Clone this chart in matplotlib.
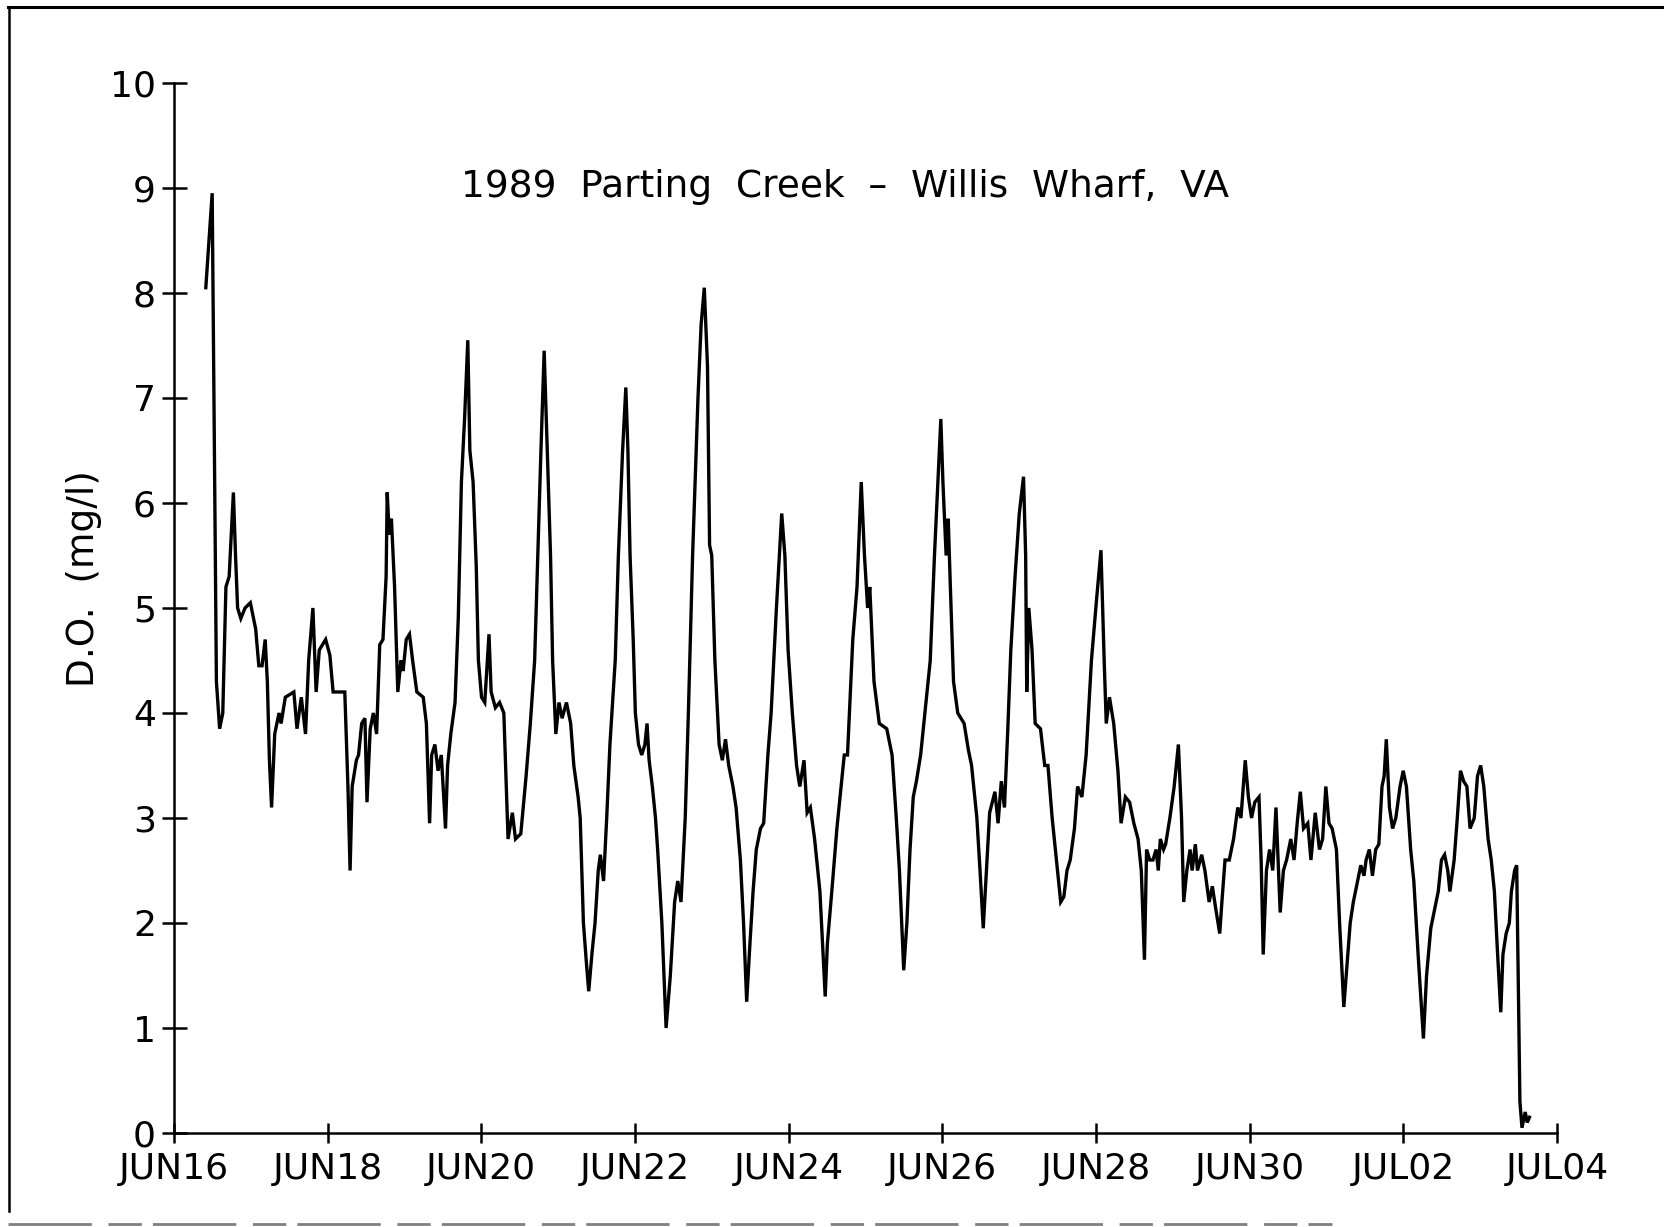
import matplotlib
matplotlib.use("Agg")
import matplotlib.pyplot as plt
from matplotlib.lines import Line2D

# Dissolved oxygen record, days after JUN16 00:00
day_offset = [0.414, 0.456, 0.497, 0.552, 0.594, 0.635, 0.676, 0.718, 0.773, 0.801,
              0.828, 0.870, 0.925, 0.994, 1.063, 1.104, 1.146, 1.187, 1.215, 1.242,
              1.270, 1.311, 1.367, 1.394, 1.449, 1.560, 1.601, 1.657, 1.712, 1.753,
              1.808, 1.850, 1.891, 1.974, 2.029, 2.071, 2.223, 2.264, 2.292, 2.319,
              2.374, 2.402, 2.443, 2.485, 2.512, 2.554, 2.595, 2.637, 2.678, 2.720,
              2.761, 2.775, 2.802, 2.830, 2.871, 2.913, 2.954, 2.982, 3.023, 3.065,
              3.106, 3.161, 3.244, 3.285, 3.327, 3.354, 3.396, 3.437, 3.479, 3.534,
              3.561, 3.603, 3.658, 3.700, 3.741, 3.782, 3.824, 3.851, 3.893, 3.934,
              3.962, 4.003, 4.045, 4.100, 4.128, 4.183, 4.238, 4.293, 4.321, 4.348,
              4.404, 4.445, 4.514, 4.583, 4.638, 4.694, 4.735, 4.776, 4.818, 4.859,
              4.901, 4.928, 4.970, 5.011, 5.052, 5.108, 5.163, 5.204, 5.260, 5.287,
              5.329, 5.370, 5.398, 5.439, 5.480, 5.522, 5.549, 5.591, 5.632, 5.674,
              5.743, 5.784, 5.839, 5.881, 5.908, 5.936, 5.977, 6.005, 6.046, 6.088,
              6.129, 6.157, 6.184, 6.226, 6.267, 6.295, 6.350, 6.405, 6.460, 6.516,
              6.557, 6.599, 6.654, 6.695, 6.750, 6.820, 6.861, 6.902, 6.944, 6.971,
              6.999, 7.040, 7.095, 7.137, 7.178, 7.220, 7.275, 7.316, 7.372, 7.413,
              7.454, 7.496, 7.537, 7.579, 7.634, 7.675, 7.730, 7.772, 7.841, 7.910,
              7.951, 7.993, 8.048, 8.103, 8.145, 8.200, 8.241, 8.283, 8.338, 8.407,
              8.476, 8.504, 8.573, 8.628, 8.683, 8.724, 8.766, 8.835, 8.890, 8.945,
              8.987, 9.028, 9.056, 9.111, 9.180, 9.277, 9.346, 9.401, 9.442, 9.498,
              9.539, 9.580, 9.622, 9.663, 9.718, 9.774, 9.843, 9.898, 9.981, 10.008,
              10.050, 10.077, 10.105, 10.146, 10.201, 10.284, 10.339, 10.381, 10.450, 10.491,
              10.533, 10.574, 10.616, 10.685, 10.726, 10.768, 10.809, 10.850, 10.892, 10.947,
              11.002, 11.057, 11.085, 11.099, 11.126, 11.168, 11.209, 11.278, 11.333, 11.375,
              11.430, 11.485, 11.541, 11.582, 11.623, 11.665, 11.720, 11.761, 11.817, 11.872,
              11.941, 12.010, 12.065, 12.107, 12.134, 12.176, 12.231, 12.286, 12.327, 12.383,
              12.438, 12.493, 12.548, 12.590, 12.631, 12.659, 12.700, 12.742, 12.783, 12.811,
              12.838, 12.880, 12.907, 12.962, 13.018, 13.073, 13.114, 13.142, 13.183, 13.225,
              13.252, 13.294, 13.321, 13.376, 13.418, 13.473, 13.515, 13.556, 13.611, 13.639,
              13.680, 13.735, 13.791, 13.846, 13.887, 13.943, 13.984, 14.025, 14.067, 14.122,
              14.150, 14.177, 14.219, 14.260, 14.301, 14.343, 14.398, 14.440, 14.481, 14.536,
              14.578, 14.619, 14.660, 14.702, 14.757, 14.798, 14.854, 14.909, 14.950, 14.992,
              15.033, 15.074, 15.130, 15.171, 15.226, 15.268, 15.309, 15.350, 15.392, 15.447,
              15.489, 15.516, 15.558, 15.599, 15.641, 15.682, 15.723, 15.751, 15.779, 15.820,
              15.861, 15.903, 15.958, 15.999, 16.041, 16.096, 16.137, 16.193, 16.262, 16.303,
              16.358, 16.400, 16.455, 16.497, 16.538, 16.579, 16.607, 16.662, 16.703, 16.745,
              16.786, 16.828, 16.869, 16.924, 16.966, 17.007, 17.048, 17.104, 17.145, 17.186,
              17.228, 17.269, 17.297, 17.339, 17.380, 17.407, 17.449, 17.476, 17.518, 17.545,
              17.587, 17.614, 17.642]

do_mgl = [8.05, 8.5, 8.95, 4.3, 3.85, 4.0, 5.2, 5.3, 6.1, 5.5,
          5.0, 4.9, 5.0, 5.05, 4.8, 4.45, 4.45, 4.7, 4.3, 3.55,
          3.1, 3.8, 4.0, 3.9, 4.15, 4.2, 3.85, 4.15, 3.8, 4.5,
          5.0, 4.2, 4.6, 4.7, 4.55, 4.2, 4.2, 3.3, 2.5, 3.3,
          3.55, 3.6, 3.9, 3.95, 3.15, 3.85, 4.0, 3.8, 4.65, 4.7,
          5.3, 6.1, 5.7, 5.85, 5.2, 4.2, 4.5, 4.4, 4.7, 4.75,
          4.5, 4.2, 4.15, 3.9, 2.95, 3.6, 3.7, 3.45, 3.6, 2.9,
          3.5, 3.8, 4.1, 4.9, 6.2, 6.8, 7.55, 6.5, 6.2, 5.4,
          4.5, 4.15, 4.1, 4.75, 4.2, 4.05, 4.1, 4.0, 3.4, 2.8,
          3.05, 2.8, 2.85, 3.4, 3.9, 4.5, 5.5, 6.5, 7.45, 6.5,
          5.5, 4.5, 3.8, 4.1, 3.95, 4.1, 3.9, 3.5, 3.2, 3.0,
          2.0, 1.6, 1.35, 1.7, 2.0, 2.5, 2.65, 2.4, 3.0, 3.7,
          4.5, 5.5, 6.5, 7.1, 6.5, 5.5, 4.7, 4.0, 3.7, 3.6,
          3.7, 3.9, 3.55, 3.3, 3.0, 2.7, 2.0, 1.0, 1.5, 2.2,
          2.4, 2.2, 3.0, 4.0, 5.5, 7.0, 7.7, 8.05, 7.3, 5.6,
          5.5, 4.5, 3.7, 3.55, 3.75, 3.5, 3.3, 3.1, 2.6, 2.0,
          1.25, 1.8, 2.3, 2.7, 2.9, 2.95, 3.6, 4.0, 5.0, 5.9,
          5.5, 4.6, 4.0, 3.5, 3.3, 3.55, 3.05, 3.1, 2.8, 2.3,
          1.3, 1.8, 2.4, 2.9, 3.3, 3.6, 3.6, 4.7, 5.2, 6.2,
          5.5, 5.0, 5.2, 4.3, 3.9, 3.85, 3.6, 3.0, 2.5, 1.55,
          2.0, 2.7, 3.2, 3.35, 3.6, 4.0, 4.5, 5.5, 6.8, 6.2,
          5.5, 5.85, 5.2, 4.3, 4.0, 3.9, 3.65, 3.5, 3.0, 2.5,
          1.95, 2.5, 3.05, 3.25, 2.95, 3.35, 3.1, 3.8, 4.6, 5.3,
          5.9, 6.25, 5.5, 4.2, 5.0, 4.6, 3.9, 3.85, 3.5, 3.5,
          3.0, 2.6, 2.2, 2.25, 2.5, 2.6, 2.9, 3.3, 3.2, 3.6,
          4.5, 5.1, 5.55, 4.5, 3.9, 4.15, 3.9, 3.45, 2.95, 3.2,
          3.15, 2.95, 2.8, 2.5, 1.65, 2.7, 2.6, 2.6, 2.7, 2.5,
          2.8, 2.7, 2.75, 3.0, 3.3, 3.7, 3.0, 2.2, 2.5, 2.7,
          2.5, 2.75, 2.5, 2.65, 2.5, 2.2, 2.35, 2.15, 1.9, 2.2,
          2.6, 2.6, 2.8, 3.1, 3.0, 3.55, 3.2, 3.0, 3.15, 3.2,
          2.6, 1.7, 2.5, 2.7, 2.5, 3.1, 2.1, 2.5, 2.6, 2.8,
          2.6, 2.95, 3.25, 2.9, 2.95, 2.6, 3.05, 2.7, 2.8, 3.3,
          2.95, 2.9, 2.7, 2.0, 1.2, 1.6, 2.0, 2.2, 2.35, 2.55,
          2.45, 2.6, 2.7, 2.45, 2.7, 2.75, 3.3, 3.4, 3.75, 3.1,
          2.9, 3.0, 3.3, 3.45, 3.3, 2.7, 2.4, 1.7, 0.9, 1.5,
          1.95, 2.1, 2.3, 2.6, 2.65, 2.5, 2.3, 2.6, 3.0, 3.45,
          3.35, 3.3, 2.9, 3.0, 3.4, 3.5, 3.3, 2.8, 2.6, 2.3,
          1.7, 1.15, 1.7, 1.9, 2.0, 2.3, 2.5, 2.55, 0.3, 0.05,
          0.2, 0.1, 0.15]

tick_days = [0, 2, 4, 6, 8, 10, 12, 14, 16, 18]
tick_labels = ["JUN16", "JUN18", "JUN20", "JUN22", "JUN24",
               "JUN26", "JUN28", "JUN30", "JUL02", "JUL04"]
y_ticks = [0, 1, 2, 3, 4, 5, 6, 7, 8, 9, 10]

TITLE = "1989  Parting  Creek  \u2013  Willis  Wharf,  VA"
FONT = "DejaVu Sans"
FS = 26

assert len(day_offset) == len(do_mgl), (len(day_offset), len(do_mgl))

fig = plt.figure(figsize=(16.65, 12.27), dpi=100)
ax = fig.add_axes([0.1045, 0.0766, 0.8306, 0.8558])

ax.plot(day_offset, do_mgl, color="black", lw=2.4, solid_joinstyle="miter")

ax.set_xlim(0, 18)
ax.set_ylim(0, 10)
ax.set_xticks(tick_days)
ax.set_xticklabels(tick_labels, fontsize=FS, family=FONT)
ax.set_yticks(y_ticks)
ax.set_yticklabels([str(v) for v in y_ticks], fontsize=FS, family=FONT)

for side in ["top", "right"]:
    ax.spines[side].set_visible(False)
for side in ["left", "bottom"]:
    ax.spines[side].set_linewidth(1.8)

ax.tick_params(axis="y", direction="inout", length=18, width=1.8, pad=4)
ax.tick_params(axis="x", direction="inout", length=14, width=1.8, pad=7)

fig.text(0.5075, 0.8476, TITLE, fontsize=27, family=FONT,
         ha="center", va="center")
fig.text(84 / 1665, 1 - 579 / 1227, "D.O.  (mg/l)", fontsize=27, family=FONT,
         rotation=90, ha="center", va="center")

# scanned page frame
fig.add_artist(Line2D([0.005, 1.0], [0.9945, 0.9945], color="black", lw=2.2,
                      transform=fig.transFigure))
fig.add_artist(Line2D([0.0055, 0.0055], [0.9945, 0.013], color="black", lw=1.8,
                      transform=fig.transFigure))
fig.add_artist(Line2D([0.005, 0.80], [0.0025, 0.0025], color="0.5", lw=2.0,
                      dashes=(30, 6, 12, 4), transform=fig.transFigure))

fig.savefig("out.png", dpi=100)
